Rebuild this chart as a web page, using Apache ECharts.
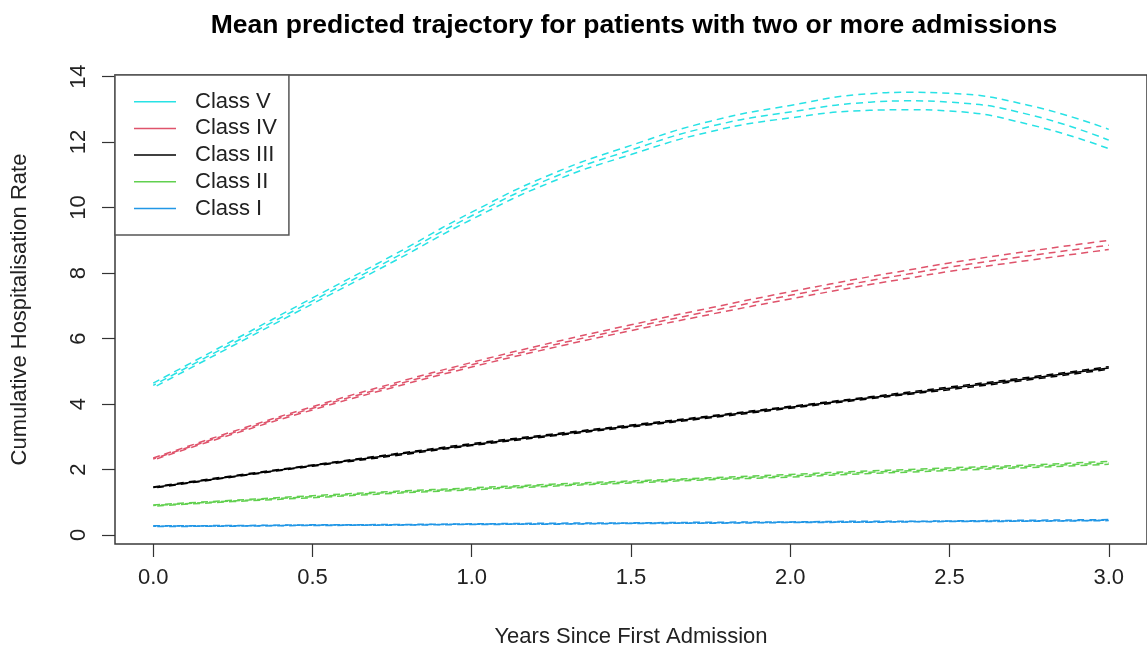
<!DOCTYPE html>
<html>
<head>
<meta charset="utf-8">
<script src="https://cdn.jsdelivr.net/npm/echarts@6/dist/echarts.min.js"></script>
<style>
html,body{margin:0;padding:0;background:#fff;}
#chart{width:1147px;height:653px;}
</style>
</head>
<body>
<div id="chart"></div>
<script>
// ---- data ----
const years = [0, 0.25, 0.5, 0.75, 1.0, 1.25, 1.5, 1.75, 2.0, 2.25, 2.375, 2.5, 2.75, 3.0];
const xTicks = [0, 0.5, 1.0, 1.5, 2.0, 2.5, 3.0];
const yTicks = [0, 2, 4, 6, 8, 10, 12, 14];
const legendOrder = ['Class V', 'Class IV', 'Class III', 'Class II', 'Class I'];

const class5Mean  = [4.57, 5.86, 7.15, 8.43, 9.75, 10.90, 11.76, 12.48, 12.92, 13.22, 13.26, 13.22, 12.84, 12.06];
const class5Upper = [4.64, 5.94, 7.24, 8.53, 9.86, 11.02, 11.90, 12.64, 13.12, 13.48, 13.52, 13.49, 13.12, 12.39];
const class5Lower = [4.50, 5.78, 7.06, 8.33, 9.64, 10.78, 11.62, 12.32, 12.74, 12.97, 12.99, 12.95, 12.54, 11.80];

const class4Mean  = [2.32, 3.12, 3.87, 4.56, 5.20, 5.79, 6.33, 6.84, 7.32, 7.77, 7.98, 8.18, 8.53, 8.85];
const class4Upper = [2.35, 3.16, 3.92, 4.62, 5.27, 5.87, 6.42, 6.94, 7.43, 7.89, 8.10, 8.31, 8.67, 9.00];
const class4Lower = [2.29, 3.08, 3.82, 4.50, 5.13, 5.71, 6.24, 6.74, 7.21, 7.65, 7.85, 8.05, 8.39, 8.72];

const class3Mean  = [1.45, 1.79, 2.12, 2.44, 2.76, 3.05, 3.33, 3.61, 3.90, 4.19, 4.33, 4.48, 4.78, 5.10];
const class3Upper = [1.47, 1.81, 2.14, 2.47, 2.79, 3.08, 3.36, 3.64, 3.93, 4.22, 4.37, 4.52, 4.82, 5.14];
const class3Lower = [1.43, 1.77, 2.10, 2.41, 2.73, 3.02, 3.30, 3.58, 3.87, 4.16, 4.30, 4.44, 4.74, 5.06];

const class2Mean  = [0.90, 1.04, 1.17, 1.30, 1.41, 1.52, 1.62, 1.72, 1.81, 1.92, 1.96, 2.01, 2.10, 2.20];
const class2Upper = [0.92, 1.06, 1.20, 1.33, 1.44, 1.55, 1.65, 1.75, 1.85, 1.96, 2.00, 2.05, 2.14, 2.25];
const class2Lower = [0.88, 1.02, 1.14, 1.27, 1.38, 1.49, 1.59, 1.69, 1.77, 1.88, 1.92, 1.97, 2.06, 2.16];

const class1Mean  = [0.27, 0.28, 0.30, 0.31, 0.33, 0.34, 0.36, 0.37, 0.39, 0.40, 0.41, 0.42, 0.43, 0.45];
const class1Upper = [0.28, 0.29, 0.31, 0.32, 0.34, 0.36, 0.37, 0.39, 0.40, 0.42, 0.42, 0.43, 0.45, 0.47];
const class1Lower = [0.26, 0.27, 0.29, 0.30, 0.32, 0.33, 0.35, 0.36, 0.38, 0.39, 0.40, 0.41, 0.42, 0.44];

// ---- styling ----
const FONT = '"Liberation Sans", Arial, Helvetica, sans-serif';
const colors = {
  'Class V': '#28E2E5',
  'Class IV': '#DF536B',
  'Class III': '#000000',
  'Class II': '#61D04F',
  'Class I': '#2297E6'
};
const groups = [
  ['Class V', class5Mean, class5Upper, class5Lower, false],
  ['Class IV', class4Mean, class4Upper, class4Lower, false],
  ['Class III', class3Mean, class3Upper, class3Lower, true],
  ['Class II', class2Mean, class2Upper, class2Lower, false],
  ['Class I', class1Mean, class1Upper, class1Lower, false]
];

const series = [];
groups.forEach(([name, mean, up, lo, solidMean]) => {
  [[up, false, 0], [mean, solidMean, 4], [lo, false, 8]].forEach(([arr, solid, off]) => {
    series.push({
      name: name,
      type: 'line',
      data: years.map((x, i) => [x, arr[i]]),
      symbol: 'none',
      smooth: 0.5,
      silent: true,
      animation: false,
      itemStyle: { color: colors[name] },
      lineStyle: {
        color: colors[name],
        width: 1.5,
        type: solid ? 'solid' : [7, 5],
        dashOffset: off
      }
    });
  });
});

const chart = echarts.init(document.getElementById('chart'), null, { renderer: 'canvas' });
chart.setOption({
  backgroundColor: '#ffffff',
  animation: false,
  title: {
    text: 'Mean predicted trajectory for patients with two or more admissions',
    left: 629,
    top: 7,
    textAlign: 'center',
    textStyle: { fontFamily: FONT, fontWeight: 'bold', fontSize: 26.5, color: '#000' }
  },
  grid: {
    left: 115, top: 75, width: 1037, height: 469,
    show: true, borderColor: '#3a3a3a', borderWidth: 1.5, backgroundColor: 'transparent'
  },
  legend: {
    data: legendOrder,
    orient: 'vertical',
    left: 115, top: 75,
    padding: [15.7, 12, 15.5, 19],
    icon: 'rect',
    itemWidth: 42, itemHeight: 1.5, itemGap: 4.7,
    borderColor: '#555', borderWidth: 1.5,
    backgroundColor: '#fff',
    textStyle: { fontFamily: FONT, fontSize: 22, lineHeight: 22, color: '#222', padding: [0, 0, 0, 14] },
    selectedMode: false
  },
  xAxis: {
    type: 'value', min: -0.12, max: 3.12,
    name: 'Years Since First Admission', nameLocation: 'middle', nameGap: 82,
    nameTextStyle: { fontFamily: FONT, fontSize: 22, color: '#222' },
    axisLine: { show: false, onZero: false },
    splitLine: { show: false },
    axisTick: { show: true, length: 13, customValues: xTicks, lineStyle: { color: '#333', width: 1.2 } },
    axisLabel: { customValues: xTicks, formatter: v => v.toFixed(1), margin: 23,
      fontFamily: FONT, fontSize: 22, color: '#222' }
  },
  yAxis: {
    type: 'value', min: -0.275, max: 14.05,
    name: 'Cumulative Hospitalisation Rate', nameLocation: 'middle', nameGap: 84,
    nameTextStyle: { fontFamily: FONT, fontSize: 22, color: '#222' },
    axisLine: { show: false, onZero: false },
    splitLine: { show: false },
    axisTick: { show: true, length: 13, customValues: yTicks, lineStyle: { color: '#333', width: 1.2 } },
    axisLabel: { customValues: yTicks, rotate: 90, margin: 25,
      fontFamily: FONT, fontSize: 22, color: '#222' }
  },
  series: series
});
</script>
</body>
</html>
